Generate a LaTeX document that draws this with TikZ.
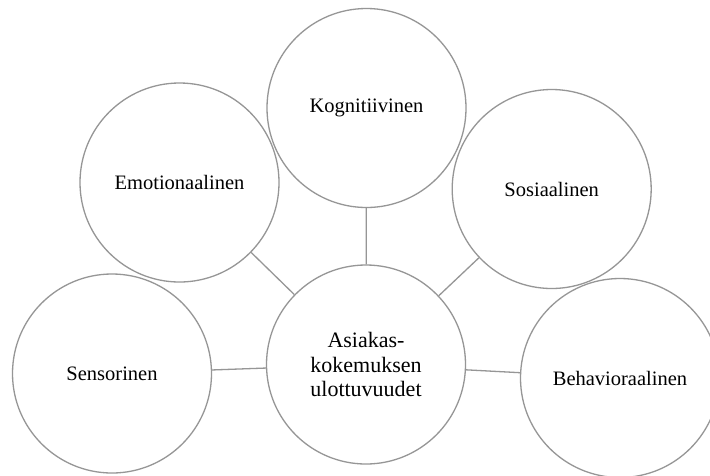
\documentclass[tikz,border=0pt]{standalone}
\usepackage{fontspec}
\setmainfont{Liberation Serif}
\definecolor{circgray}{RGB}{150,150,150}
\tikzset{
  dim/.style={circle, draw=circgray, line width=1.3pt, minimum size=199pt, inner sep=0pt,
    font=\fontsize{20.5}{24}\selectfont, text=black},
  hub/.style={dim, font=\fontsize{22}{24.3}\selectfont, align=center},
  link/.style={draw=circgray, line width=1.3pt}
}
\begin{document}
\begin{tikzpicture}[x=1pt,y=-1pt]
\useasboundingbox (0,0) rectangle (710,475);
\clip (0,0) rectangle (710,475);
\fill[white] (0,0) rectangle (710,475);
\node[hub] (c) at (366,364.5) {Asiakas-\\kokemuksen\\ulottuvuudet};
\node[dim] (k) at (366.5,108) {Kognitiivinen};
\node[dim] (e) at (179.5,182.5) {Emotionaalinen};
\node[dim] (s) at (551.7,189) {Sosiaalinen};
\node[dim] (n) at (112,373.5) {Sensorinen};
\node[dim] (b) at (620,378) {Behavioraalinen};
\draw[link] (k) -- (c);
\draw[link] (e) -- (c);
\draw[link] (s) -- (c);
\draw[link] (n) -- (c);
\draw[link] (c) -- (b);
\end{tikzpicture}
\end{document}
